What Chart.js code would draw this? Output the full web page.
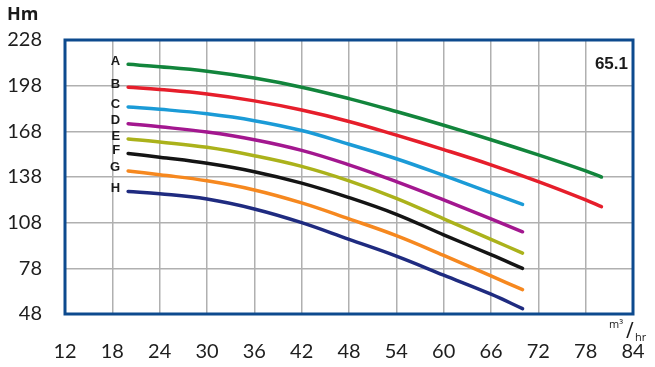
<!DOCTYPE html>
<html>
<head>
<meta charset="utf-8">
<script src="https://cdn.jsdelivr.net/npm/chart.js@4"></script>
<style>
  body { margin: 0; background: #fff; }
  #chart { display: block; }
</style>
</head>
<body>
<canvas id="chart" width="655" height="367"></canvas>
<script>
// flow (m3/hr) for the two long curves and the six short ones
const flowLong = [20, 24, 30, 36, 42, 48, 54, 60, 66, 72, 78, 80];
const flowShort = [20, 24, 30, 36, 42, 48, 54, 60, 66, 70];

// head (Hm) per impeller
const headA = [212, 210.5, 207.5, 203, 197, 189.5, 181, 172, 162.5, 152.5, 142, 138];
const headB = [197, 195.5, 192.5, 188, 182, 174.5, 165.5, 156, 146, 135, 123, 118.5];
const headC = [184, 182.5, 179.5, 175, 168.5, 159.5, 150, 139, 127.5, 120];
const headD = [173, 171, 167.5, 162.5, 155.5, 146, 135, 123, 110.5, 102];
const headE = [163, 161, 157.5, 152, 145, 135.5, 124, 110.5, 97, 88];
const headF = [153.5, 151, 147, 141.5, 134, 124.5, 113.5, 100, 87, 78];
const headG = [142, 139.5, 135.5, 129.5, 121, 110.5, 99.5, 86.5, 73, 64];
const headH = [128.5, 127, 123.5, 117, 108, 97, 86, 73.5, 61, 51.5];

const curveNames = ["A", "B", "C", "D", "E", "F", "G", "H"];
const curveColors = ["#12853c", "#e61e2b", "#1b9bd7", "#a3178f", "#abb21b", "#141414", "#f6881f", "#1f2b80"];

const xTicks = [12, 18, 24, 30, 36, 42, 48, 54, 60, 66, 72, 78, 84];
const yTicks = [48, 78, 108, 138, 168, 198, 228];
const modelLabel = "65.1";

const heads = [headA, headB, headC, headD, headE, headF, headG, headH];

const datasets = heads.map((h, i) => {
  const q = h.length === flowLong.length ? flowLong : flowShort;
  return {
    label: curveNames[i],
    data: h.map((v, j) => ({ x: q[j], y: v })),
    borderColor: curveColors[i],
    borderWidth: 3.5,
    borderCapStyle: "round",
    pointRadius: 0,
    tension: 0.4,
    fill: false
  };
});

const extras = {
  id: "extras",
  afterDraw(chart) {
    const { ctx, chartArea: a, scales } = chart;
    ctx.save();
    // plot frame
    ctx.strokeStyle = "#0d4a8e";
    ctx.lineWidth = 3;
    ctx.strokeRect(a.left, a.top, a.right - a.left, a.bottom - a.top);

    // curve letters
    ctx.fillStyle = "#1a1a1a";
    ctx.font = "bold 13px 'Liberation Sans', Arial, sans-serif";
    ctx.textAlign = "right";
    ctx.textBaseline = "middle";
    chart.data.datasets.forEach(ds => {
      const p = ds.data[0];
      ctx.fillText(ds.label, scales.x.getPixelForValue(p.x) - 8, scales.y.getPixelForValue(p.y) - 3);
    });

    // model number
    ctx.font = "bold 17px 'Liberation Sans', Arial, sans-serif";
    ctx.fillText(modelLabel, a.right - 5, a.top + 24);

    // axis unit labels
    ctx.textAlign = "left";
    ctx.fillStyle = "#1a1a1a";
    ctx.font = "bold 18px 'Open Sans', sans-serif";
    ctx.fillText("Hm", 7, 15);

    ctx.font = "11px 'Open Sans', sans-serif";
    ctx.fillText("m³", 609, 325);
    ctx.font = "21px 'Open Sans', sans-serif";
    ctx.fillText("/", 626, 332);
    ctx.font = "11px 'Open Sans', sans-serif";
    ctx.fillText("hr", 635, 338);
    ctx.restore();
  }
};

new Chart(document.getElementById("chart").getContext("2d"), {
  type: "line",
  data: { datasets },
  options: {
    responsive: false,
    devicePixelRatio: 1,
    animation: false,
    layout: { padding: { top: 40, right: 22, left: 0, bottom: 0 } },
    plugins: { legend: { display: false }, tooltip: { enabled: false } },
    scales: {
      x: {
        type: "linear",
        min: 12,
        max: 84,
        afterBuildTicks: s => { s.ticks = xTicks.map(v => ({ value: v })); },
        afterFit: s => { s.height = 53; s.paddingLeft = 0; s.paddingRight = 0; },
        grid: { color: "#b0b0b0", lineWidth: 1.5, drawTicks: false },
        border: { display: false },
        ticks: { color: "#1e1e1e", font: { family: "Lato", size: 20 }, padding: 26, maxRotation: 0 }
      },
      y: {
        type: "linear",
        min: 48,
        max: 228,
        afterBuildTicks: s => { s.ticks = yTicks.map(v => ({ value: v })); },
        afterFit: s => { s.width = 65; s.paddingTop = 0; s.paddingBottom = 0; },
        grid: { color: "#b0b0b0", lineWidth: 1.5, drawTicks: false },
        border: { display: false },
        ticks: { color: "#1e1e1e", font: { family: "Lato", size: 20 }, padding: 23 }
      }
    }
  },
  plugins: [extras]
});
</script>
</body>
</html>
